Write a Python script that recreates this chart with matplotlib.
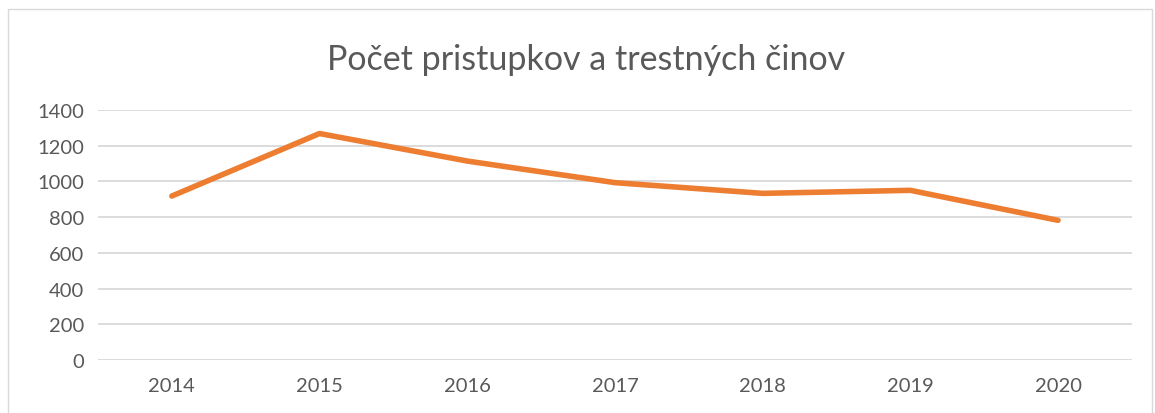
import matplotlib.pyplot as plt
from matplotlib.patches import Rectangle

years = ['2014', '2015', '2016', '2017', '2018', '2019', '2020']
counts = [918, 1268, 1114, 993, 933, 950, 782]
y_ticks = [0, 200, 400, 600, 800, 1000, 1200, 1400]

plt.rcParams['font.family'] = ['Lato', 'DejaVu Sans']
text_col = '#595959'

fig = plt.figure(figsize=(11.55, 4.14), dpi=100)
ax = fig.add_axes([0.0848, 0.128, 0.8952, 0.604])

x = list(range(len(years)))
ax.plot(x, counts, color='#ED7D31', linewidth=4, solid_capstyle='round', solid_joinstyle='round')

ax.set_xlim(-0.5, len(years) - 0.5)
ax.set_ylim(0, 1400)
ax.set_xticks(x)
ax.set_xticklabels(years)
ax.set_yticks(y_ticks)
ax.tick_params(axis='both', length=0, labelsize=14.5, colors=text_col)
ax.tick_params(axis='x', pad=12)
ax.tick_params(axis='y', pad=10)
ax.grid(axis='y', color='#D9D9D9', linewidth=1.3)
ax.set_axisbelow(True)
for s in ax.spines.values():
    s.set_visible(False)

fig.text(0.507, 0.855, 'Počet pristupkov a trestných činov', ha='center', va='center',
         fontsize=24.5, color=text_col)

# chart area border
fig.patches.append(Rectangle((0.007, -0.01), 0.99, 0.985, transform=fig.transFigure,
                             fill=False, edgecolor='#D9D9D9', linewidth=1))

fig.savefig('out.png', dpi=100)
